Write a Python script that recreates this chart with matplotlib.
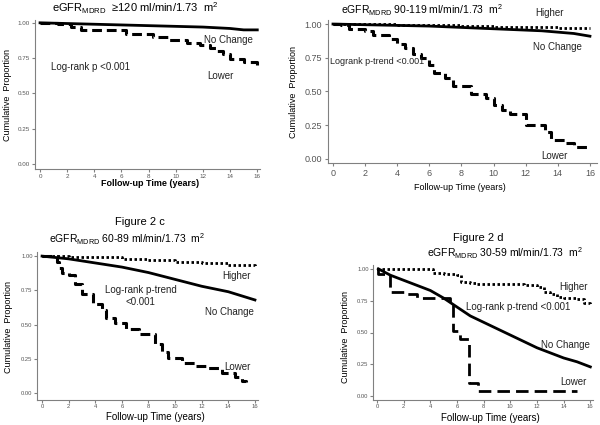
import matplotlib
matplotlib.use("Agg")
import matplotlib.pyplot as plt

plt.rcParams['font.family'] = ['Liberation Sans', 'DejaVu Sans']
plt.rcParams['mathtext.fontset'] = 'custom'
plt.rcParams['mathtext.rm'] = 'Liberation Sans'
plt.rcParams['mathtext.it'] = 'Liberation Sans'

# ---------------- data ----------------
x_ticks = [0, 2, 4, 6, 8, 10, 12, 14, 16]
y_ticks = [0.00, 0.25, 0.50, 0.75, 1.00]
y_tick_labels = ["0.00", "0.25", "0.50", "0.75", "1.00"]

# Panel a: eGFR >=120
a_nochange_t = [0, 2, 4, 6, 8, 10, 12, 14, 15, 16]
a_nochange_s = [1.0, 0.995, 0.99, 0.985, 0.98, 0.975, 0.97, 0.96, 0.95, 0.95]
a_lower_t = [0, 1.3, 2.3, 3.0, 6.3, 8.3, 9.5, 10.8, 11.8, 12.5, 13.0, 13.5, 14.0, 15.0, 16.0]
a_lower_s = [1.0, 0.99, 0.97, 0.95, 0.92, 0.90, 0.88, 0.86, 0.84, 0.82, 0.80, 0.78, 0.745, 0.72, 0.70]

# Panel b: eGFR 90-119
b_higher_t = [0, 4, 8, 10, 12, 14, 16]
b_higher_s = [1.0, 0.99, 0.985, 0.98, 0.975, 0.97, 0.97]
b_nochange_t = [0, 2, 4, 6, 8, 10, 12, 13, 14, 15, 16]
b_nochange_s = [1.0, 0.995, 0.99, 0.985, 0.975, 0.965, 0.955, 0.95, 0.94, 0.93, 0.91]
b_lower_t = [0, 0.5, 1.0, 2.0, 2.5, 3.5, 4.0, 4.5, 5.0, 5.5, 6.0, 6.3, 7.0, 7.5, 8.6, 9.5,
             10.0, 10.5, 11.0, 12.0, 13.2, 13.6, 14.5, 15.0, 16.0]
b_lower_s = [1.0, 0.99, 0.96, 0.95, 0.92, 0.89, 0.85, 0.82, 0.78, 0.745, 0.70, 0.64, 0.60, 0.54,
             0.48, 0.45, 0.40, 0.36, 0.33, 0.25, 0.20, 0.14, 0.12, 0.09, 0.085]

# Panel c: eGFR 60-89
c_higher_t = [0, 2, 4, 6, 8, 10, 12, 14, 16]
c_higher_s = [1.0, 0.995, 0.99, 0.98, 0.97, 0.96, 0.95, 0.935, 0.92]
c_nochange_t = [0, 2, 4, 6, 8, 10, 12, 14, 15, 16]
c_nochange_s = [1.0, 0.98, 0.95, 0.92, 0.88, 0.83, 0.78, 0.74, 0.71, 0.68]
c_lower_t = [0, 1.1, 1.3, 1.5, 2.0, 2.5, 3.0, 3.8, 4.5, 4.8, 5.5, 6.3, 7.3, 8.5, 9.0, 9.5,
             10.5, 11.5, 12.5, 13.5, 14.5, 15.0, 15.3]
c_lower_s = [1.0, 0.96, 0.91, 0.88, 0.86, 0.80, 0.72, 0.65, 0.61, 0.55, 0.51, 0.47, 0.43, 0.36,
             0.30, 0.26, 0.22, 0.20, 0.18, 0.15, 0.12, 0.09, 0.08]

# Panel d: eGFR 30-59
d_higher_t = [0, 4.2, 5.0, 6.0, 6.3, 7.0, 7.5, 11.0, 12.0, 12.5, 13.0, 13.5, 14.0, 15.0, 15.5, 16.0]
d_higher_s = [1.0, 0.97, 0.96, 0.95, 0.90, 0.89, 0.88, 0.87, 0.86, 0.82, 0.80, 0.78, 0.77, 0.76, 0.73, 0.71]
d_nochange_t = [0.1, 1, 2, 3, 4, 5, 6, 7, 8, 9, 10, 11, 12, 13, 14, 15, 16]
d_nochange_s = [1.0, 0.95, 0.91, 0.87, 0.83, 0.77, 0.70, 0.63, 0.58, 0.53, 0.48, 0.43, 0.38, 0.34, 0.30, 0.27, 0.23]
d_lower_t = [0, 0.1, 1.0, 2.0, 3.0, 5.5, 5.7, 6.2, 6.9, 7.6, 15.0]
d_lower_s = [1.0, 0.96, 0.82, 0.80, 0.77, 0.73, 0.51, 0.45, 0.10, 0.04, 0.04]

# ---------------- figure ----------------
fig = plt.figure(figsize=(6, 4.25), dpi=100)

def fx(px):
    return px / 600.0

def fy(py):
    return 1 - py / 425.0

SPINE = '#808080'
DASH = (0, (3.2, 1.6))
DOT = (0, (0.9, 0.9))

def setup(ax, xlim, ylim, tick_fs, pad=1.5):
    ax.set_xlim(*xlim)
    ax.set_ylim(*ylim)
    for s in ['top', 'right']:
        ax.spines[s].set_visible(False)
    for s in ['left', 'bottom']:
        ax.spines[s].set_color(SPINE)
        ax.spines[s].set_linewidth(0.8)
    ax.set_xticks(x_ticks)
    ax.set_xticklabels([str(v) for v in x_ticks])
    ax.set_yticks(y_ticks)
    ax.set_yticklabels(y_tick_labels)
    ax.tick_params(direction='out', length=2.2, width=0.8, colors=SPINE,
                   labelsize=tick_fs, labelcolor='#555555', pad=pad)
    ax.patch.set_alpha(0)

def txt(ax, x, y, s, fs=7, ha='center'):
    ax.text(x, y, s, fontsize=fs, ha=ha, va='center', color='#222222', clip_on=False)

# Panel a
axa = fig.add_axes([fx(35), fy(169), fx(225), (169 - 20) / 425.0])
setup(axa, (-0.37, 16.2), (-0.035, 1.02), 4.5)
axa.plot(a_nochange_t, a_nochange_s, color='black', lw=2.0)
axa.step(a_lower_t, a_lower_s, where='post', color='black', lw=2.2, linestyle=DASH)
txt(axa, 13.9, 0.88, 'No Change')
txt(axa, 13.3, 0.62, 'Lower')
txt(axa, 0.8, 0.69, 'Log-rank p <0.001', ha='left')
fig.text(fx(135), fy(8), r'eGFR$_{\mathrm{MDRD}}$  ≥120 ml/min/1.73  m$^{2}$', fontsize=8, ha='center', va='center')
fig.text(fx(8), fy(95), 'Cumulative  Proportion', fontsize=6.5, rotation=90, ha='center', va='center')
fig.text(fx(150), fy(184), 'Follow-up Time (years)', fontsize=6.5, ha='center', va='center', fontweight='bold')

# Panel b
axb = fig.add_axes([fx(328), fy(163), fx(597 - 328), (163 - 20) / 425.0])
setup(axb, (-0.31, 16.44), (-0.03, 1.03), 6.5, pad=2)
axb.step(b_higher_t, b_higher_s, where='post', color='black', lw=2.0, linestyle=DOT)
axb.plot(b_nochange_t, b_nochange_s, color='black', lw=2.0)
axb.step(b_lower_t, b_lower_s, where='post', color='black', lw=2.2, linestyle=DASH)
txt(axb, 13.5, 1.08, 'Higher')
txt(axb, 14.0, 0.83, 'No Change')
txt(axb, 13.8, 0.02, 'Lower')
txt(axb, -0.2, 0.72, 'Logrank p-trend <0.001', fs=6.5, ha='left')
fig.text(fx(422), fy(10), r'eGFR$_{\mathrm{MDRD}}$ 90-119 ml/min/1.73  m$^{2}$', fontsize=7.5, ha='center', va='center')
fig.text(fx(293), fy(92), 'Cumulative  Proportion', fontsize=6.5, rotation=90, ha='center', va='center')
fig.text(fx(460), fy(188), 'Follow-up Time (years)', fontsize=6.5, ha='center', va='center')

# Panel c
axc = fig.add_axes([fx(37), fy(400), fx(258 - 37), (400 - 252) / 425.0])
setup(axc, (-0.38, 16.23), (-0.05, 1.03), 4.2, pad=1)
axc.step(c_higher_t, c_higher_s, where='post', color='black', lw=2.0, linestyle=DOT)
axc.plot(c_nochange_t, c_nochange_s, color='black', lw=2.0)
axc.step(c_lower_t, c_lower_s, where='post', color='black', lw=2.2, linestyle=DASH)
txt(axc, 14.65, 0.856, 'Higher')
txt(axc, 14.1, 0.59, 'No Change')
txt(axc, 14.7, 0.19, 'Lower')
txt(axc, 7.4, 0.71, 'Log-rank p-trend\n<0.001')
fig.text(fx(140), fy(222), 'Figure 2 c', fontsize=8, ha='center', va='center')
fig.text(fx(127), fy(239), r'eGFR$_{\mathrm{MDRD}}$ 60-89 ml/min/1.73  m$^{2}$', fontsize=7.5, ha='center', va='center')
fig.text(fx(9), fy(327), 'Cumulative  Proportion', fontsize=6.5, rotation=90, ha='center', va='center')
fig.text(fx(155), fy(417.5), 'Follow-up Time (years)', fontsize=7, ha='center', va='center')

# Panel d
axd = fig.add_axes([fx(373), fy(400), fx(593 - 373), (400 - 265) / 425.0])
setup(axd, (-0.3, 16.2), (-0.03, 1.03), 4.2, pad=1)
axd.step(d_higher_t, d_higher_s, where='post', color='black', lw=2.0, linestyle=DOT)
axd.plot(d_nochange_t, d_nochange_s, color='black', lw=2.0)
axd.step(d_lower_t, d_lower_s, where='post', color='black', lw=2.0, linestyle=(0, (4.5, 2.2)))
txt(axd, 14.7, 0.86, 'Higher')
txt(axd, 14.1, 0.40, 'No Change')
txt(axd, 14.7, 0.115, 'Lower')
txt(axd, 6.7, 0.70, 'Log-rank p-trend <0.001', ha='left')
fig.text(fx(478), fy(238), 'Figure 2 d', fontsize=8, ha='center', va='center')
fig.text(fx(505), fy(253), r'eGFR$_{\mathrm{MDRD}}$ 30-59 ml/min/1.73  m$^{2}$', fontsize=7.5, ha='center', va='center')
fig.text(fx(345), fy(337), 'Cumulative  Proportion', fontsize=6.5, rotation=90, ha='center', va='center')
fig.text(fx(490), fy(418), 'Follow-up Time (years)', fontsize=7, ha='center', va='center')

fig.savefig('out.png', dpi=100)
